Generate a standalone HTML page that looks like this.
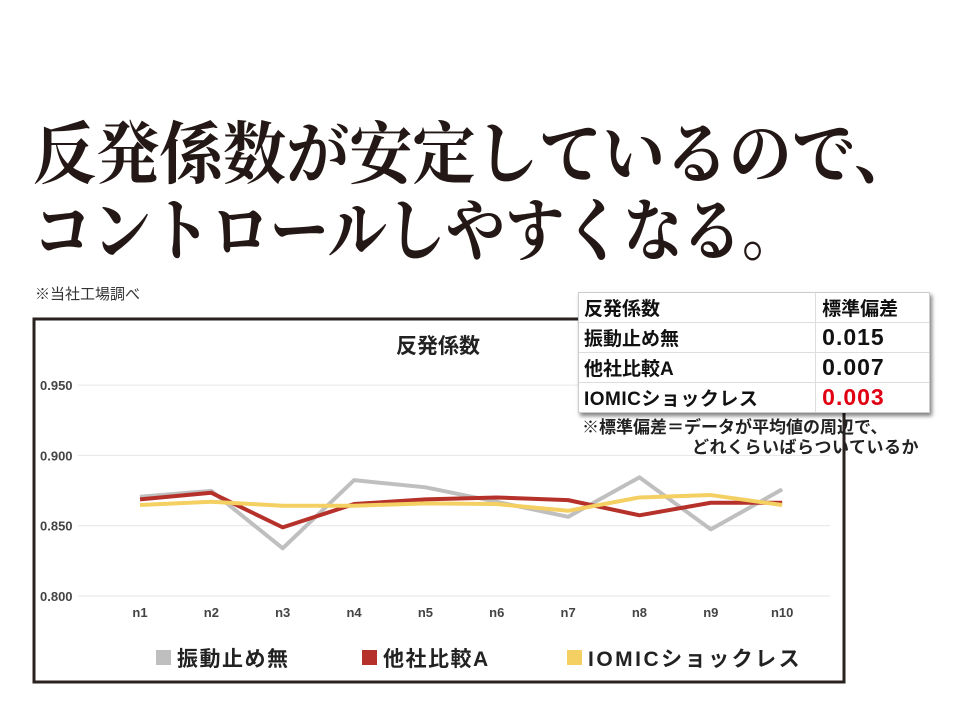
<!DOCTYPE html>
<html><head><meta charset="utf-8"><style>
body{margin:0;width:960px;height:716px;background:#fff;position:relative;overflow:hidden;font-family:"Liberation Sans","Noto Sans CJK JP",sans-serif}
.hl{position:absolute;left:33px;font-family:"Liberation Serif","Noto Serif CJK SC",serif;font-weight:bold;font-size:68px;color:#231815;white-space:nowrap;transform-origin:0 0;line-height:1}
</style></head><body>
<div class="hl" style="top:121px;transform:scaleX(0.93)">反発係数が安定しているので、</div>
<div class="hl" style="top:198px;transform:scaleX(0.87)">コントロールしやすくなる。</div>
<div style="position:absolute;left:35px;top:283px;font-size:15px;color:#333;font-family:'Liberation Sans','Noto Sans CJK JP',sans-serif">※当社工場調べ</div>
<svg width="960" height="716" style="position:absolute;left:0;top:0">
<rect x="34" y="319" width="810" height="363" fill="#fff" stroke="#2a2220" stroke-width="3"/>
<text x="438" y="353" font-size="21" font-weight="bold" text-anchor="middle" fill="#222" font-family="Liberation Sans,Noto Sans CJK JP,sans-serif">反発係数</text>
<g id="grid"></g><g id="lines"></g>
<g font-size="21" font-weight="bold" fill="#222" font-family="Liberation Sans,Noto Sans CJK JP,sans-serif">
<rect x="156" y="650" width="15" height="15" fill="#bfbfbf"/><text x="177" y="666" letter-spacing="1.5">振動止め無</text>
<rect x="362" y="650" width="15" height="15" fill="#b5312a"/><text x="383" y="666" letter-spacing="1.5">他社比較A</text>
<rect x="567" y="650" width="15" height="15" fill="#f4cf62"/><text x="588" y="666" letter-spacing="2.5">IOMICショックレス</text>
</g>
</svg>
<div style="position:absolute;left:578px;top:292px;width:350px;background:#fff;box-shadow:2px 3px 4px rgba(0,0,0,.5);border:1px solid #ccc;font-weight:bold;color:#111">
<table style="border-collapse:collapse;width:100%;font-size:19px">
<tr style="height:29px"><td style="padding:0 5px;border-bottom:1px solid #ddd;border-right:1px solid #ddd">反発係数</td><td style="padding:0 6px;border-bottom:1px solid #ddd">標準偏差</td></tr>
<tr style="height:30px"><td style="padding:0 5px;border-bottom:1px solid #ddd;border-right:1px solid #ddd">振動止め無</td><td style="padding:0 6px;border-bottom:1px solid #ddd;font-size:23px;letter-spacing:1px">0.015</td></tr>
<tr style="height:30px"><td style="padding:0 5px;border-bottom:1px solid #ddd;border-right:1px solid #ddd">他社比較A</td><td style="padding:0 6px;border-bottom:1px solid #ddd;font-size:23px;letter-spacing:1px">0.007</td></tr>
<tr style="height:30px"><td style="padding:0 5px;border-right:1px solid #ddd;letter-spacing:0.5px">IOMICショックレス</td><td style="padding:0 6px;font-size:23px;letter-spacing:1px;color:#e00012">0.003</td></tr>
</table></div>
<div style="position:absolute;left:582px;top:418px;font-size:17px;font-weight:bold;color:#222;line-height:20px">※標準偏差＝データが平均値の周辺で、<br><span style="padding-left:110px;letter-spacing:0.5px">どれくらいばらついているか</span></div>
<script>
const categories=["n1","n2","n3","n4","n5","n6","n7","n8","n9","n10"];
const yTicks=[0.800,0.850,0.900,0.950];
const grayValues=[0.8706,0.8748,0.8339,0.8824,0.8773,0.8670,0.8563,0.8844,0.8474,0.8758];
const redValues=[0.8687,0.8734,0.8488,0.8654,0.8687,0.8701,0.8682,0.8574,0.8663,0.8663];
const yellowValues=[0.8647,0.8670,0.8642,0.8642,0.8659,0.8654,0.8606,0.8701,0.8718,0.8647];
const NS="http://www.w3.org/2000/svg";
function y(v){return 596-(v-0.8)/0.05*70.3;}
function x(i){return 140+i*71.35;}
const grid=document.getElementById('grid');
yTicks.forEach(t=>{
 const l=document.createElementNS(NS,'line');
 l.setAttribute('x1',78);l.setAttribute('x2',830);l.setAttribute('y1',y(t));l.setAttribute('y2',y(t));
 l.setAttribute('stroke','#e6e6e6');l.setAttribute('stroke-width',1);
 
 
 grid.appendChild(l);
 const tx=document.createElementNS(NS,'text');
 tx.setAttribute('x',40);tx.setAttribute('y',y(t)+5);tx.setAttribute('font-size',13);tx.setAttribute('font-weight','bold');tx.setAttribute('fill','#444');
 tx.textContent=t.toFixed(3);
 
 
 grid.appendChild(tx);
});
categories.forEach((c,i)=>{
 const tx=document.createElementNS(NS,'text');
 tx.setAttribute('x',x(i));tx.setAttribute('y',617);tx.setAttribute('font-size',13);tx.setAttribute('font-weight','bold');tx.setAttribute('fill','#444');tx.setAttribute('text-anchor','middle');
 tx.textContent=c;
 
 
 grid.appendChild(tx);
});
const lines=document.getElementById('lines');
[[grayValues,'#bfbfbf','series-gray-line'],[redValues,'#b5312a','series-red-line'],[yellowValues,'#f4cf62','series-yellow-line']].forEach(s=>{
 const p=document.createElementNS(NS,'polyline');
 p.setAttribute('points',s[0].map((v,i)=>x(i)+','+y(v)).join(' '));
 p.setAttribute('fill','none');p.setAttribute('stroke',s[1]);p.setAttribute('stroke-width',4);p.setAttribute('stroke-linejoin','round');
 
 
 lines.appendChild(p);
});
</script>
</body></html>
